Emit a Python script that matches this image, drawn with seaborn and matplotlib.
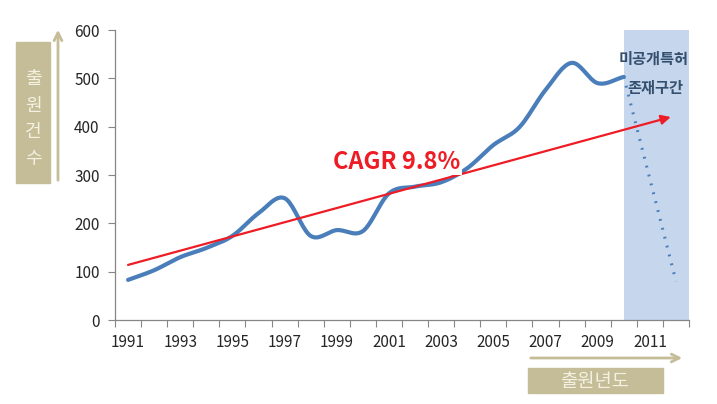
import numpy as np
import pandas as pd
import matplotlib.pyplot as plt
import seaborn as sns
from matplotlib.patches import Rectangle, FancyArrowPatch

# values
years = list(range(1991, 2013))
filings = [83, 103, 130, 149, 174, 221, 252, 174, 186, 184, 262, 276, 285, 314,
           362, 399, 476, 532, 490, 503]          # 1991-2010
unpublished_years = [2010, 2012]
unpublished = [503, 80]
cagr_start, cagr_end = (1991, 114), (2011.8, 420)
tick_years = [str(y) for y in range(1991, 2013, 2)]

sns.set_theme(style="white")
plt.rcParams['font.family'] = ['Noto Sans CJK KR', 'DejaVu Sans']

fig = plt.figure(figsize=(7.17, 4.04), dpi=100)
ax = fig.add_axes([0.1604, 0.2079, 0.8006, 0.7178])

pos = {y: i for i, y in enumerate(years)}


def smooth(xs, ys, n=20):
    # catmull-rom curve through the points, like an excel smoothed line
    xs, ys = np.asarray(xs, float), np.asarray(ys, float)
    px = np.concatenate([[2 * xs[0] - xs[1]], xs, [2 * xs[-1] - xs[-2]]])
    py = np.concatenate([[2 * ys[0] - ys[1]], ys, [2 * ys[-1] - ys[-2]]])
    ox, oy = [], []
    for i in range(1, len(px) - 2):
        t = np.linspace(0, 1, n, endpoint=False)
        for p, o in ((px, ox), (py, oy)):
            p0, p1, p2, p3 = p[i - 1], p[i], p[i + 1], p[i + 2]
            o.extend(0.5 * (2 * p1 + (-p0 + p2) * t + (2 * p0 - 5 * p1 + 4 * p2 - p3) * t ** 2
                            + (-p0 + 3 * p1 - 3 * p2 + p3) * t ** 3))
    ox.append(xs[-1]); oy.append(ys[-1])
    return np.array(ox), np.array(oy)


# shaded zone for unpublished patents
ax.axvspan(pos[2010], len(years) - 0.5, color="#c6d6ec", zorder=0, lw=0)

sx, sy = smooth([pos[y] for y in years[:len(filings)]], filings)
sns.lineplot(x=sx, y=sy, ax=ax, color="#4a7ebb", lw=3.0, sort=False, zorder=3)

sns.lineplot(x=[pos[y] for y in unpublished_years], y=unpublished, ax=ax,
             color="#4a7ebb", lw=2.2, linestyle=(0, (0.6, 2.4)), zorder=3)

# CAGR arrow
ax.annotate("", xy=(pos[2011] + (cagr_end[0] - 2011), cagr_end[1]),
            xytext=(pos[cagr_start[0]], cagr_start[1]),
            arrowprops=dict(arrowstyle="-|>", color="#ee1c25", lw=1.6,
                            mutation_scale=14, shrinkA=0, shrinkB=0), zorder=4)
ax.text(10.3, 327, "CAGR 9.8%", color="#ee1c25", fontsize=17, fontweight="bold",
        ha="center", va="center", zorder=5,
        bbox=dict(facecolor="white", edgecolor="none", pad=1))

ax.text(20.15, 540, "미공개특허", color="#34506e", fontsize=11, fontweight="bold",
        ha="center", va="center", zorder=5)
ax.text(20.2, 480, "존재구간", color="#34506e", fontsize=11, fontweight="bold",
        ha="center", va="center", zorder=5)

ax.set_xlim(-0.5, len(years) - 0.5)
ax.set_ylim(0, 600)
ax.set_yticks(range(0, 601, 100))
ax.set_xticks(range(0, len(years), 2))
ax.set_xticklabels(tick_years)
ax.set_xticks(np.arange(-0.5, len(years)), minor=True)
ax.tick_params(axis="x", which="major", length=0, labelsize=11, pad=10)
ax.tick_params(axis="x", which="minor", length=5, width=0.8, color="#868686", direction="out")
ax.tick_params(axis="y", length=5, width=0.8, color="#868686", labelsize=11, direction="out", pad=6)
ax.tick_params(axis="y", which="major", left=True)
ax.tick_params(axis="x", which="minor", bottom=True)
for s in ("top", "right"):
    ax.spines[s].set_visible(False)
for s in ("left", "bottom"):
    ax.spines[s].set_color("#868686")
    ax.spines[s].set_linewidth(0.9)
ax.set_xlabel("")
ax.set_ylabel("")

# axis captions: tan boxes with arrows
tan = "#c4bd97"
fig.patches.append(Rectangle((16 / 717, 1 - 183 / 404), 34 / 717, 141 / 404,
                             transform=fig.transFigure, color=tan, zorder=1))
fig.text(33 / 717, 1 - 119 / 404, "출\n원\n건\n수", color="#f4f1e2", fontsize=13,
         ha="center", va="center", linespacing=1.6)
fig.patches.append(FancyArrowPatch((58 / 717, 1 - 183 / 404), (58 / 717, 1 - 27 / 404),
                                   transform=fig.transFigure, arrowstyle="->",
                                   mutation_scale=14, color=tan, lw=2))
fig.patches.append(Rectangle((528 / 717, 1 - 393 / 404), 135 / 717, 25 / 404,
                             transform=fig.transFigure, color=tan, zorder=1))
fig.text(595 / 717, 1 - 382 / 404, "출원년도", color="#f4f1e2", fontsize=13.5,
         ha="center", va="center")
fig.patches.append(FancyArrowPatch((528 / 717, 1 - 358 / 404), (685 / 717, 1 - 358 / 404),
                                   transform=fig.transFigure, arrowstyle="->",
                                   mutation_scale=14, color=tan, lw=2))

fig.savefig("out.png", dpi=100)
